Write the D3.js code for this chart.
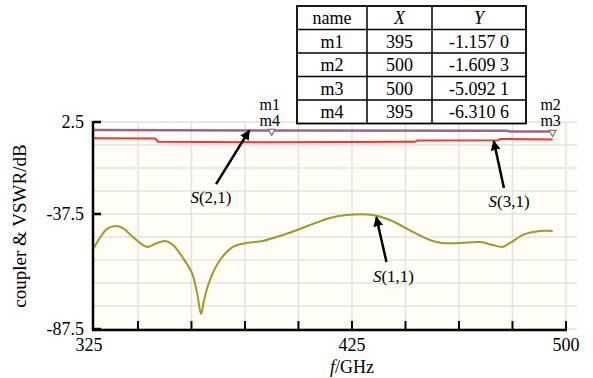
<!DOCTYPE html>
<html>
<head>
<meta charset="utf-8">
<script src="https://cdn.jsdelivr.net/npm/d3@7"></script>
<style>
  body { margin: 0; background: #fff; }
  svg { display: block; }
  text { font-family: "Liberation Serif", "Times New Roman", serif; fill: #000; }
</style>
</head>
<body>
<svg id="chart" width="593" height="378"></svg>
<script>
// S(1,1): [frequency GHz, dB]
const s11 = [
  [328.5, -52.3], [330.8, -47.9], [333.4, -44.0], [336.4, -42.7], [339.4, -43.6],
  [343.1, -47.5], [348.4, -51.8], [351.4, -50.5], [355.1, -49.2], [358.1, -51.0],
  [361.8, -56.6], [365.2, -63.2], [367.1, -71.8], [368.6, -81.0], [369.7, -74.9],
  [371.9, -66.2], [375.7, -57.5], [380.5, -51.8], [385.7, -50.1], [391.7, -49.2],
  [399.2, -46.6], [405.6, -44.0], [409.3, -42.3], [416.8, -39.2], [423.1, -37.9],
  [432.5, -37.9], [439.2, -40.1], [447.8, -45.3], [454.2, -48.8], [458.6, -50.1],
  [465.4, -50.1], [472.9, -49.7], [477.7, -51.0], [481.1, -51.8], [484.1, -50.1],
  [488.9, -46.6], [495.3, -44.9], [500.0, -44.9]
];
// S(2,1)
const s21 = [[328.5, -1.0], [395, -1.157], [483.0, -1.25], [484.0, -1.6], [500, -1.609]];
// S(3,1)
const s31 = [
  [328.5, -4.6], [351.5, -4.7], [352.5, -6.1], [395, -6.31], [448.5, -6.1],
  [449.5, -5.5], [479.5, -5.4], [480.5, -4.9], [500, -5.09]
];

const markerNames = ["m1", "m2", "m3", "m4"];
const markerX = [395, 500, 500, 395];
const markerY = ["-1.157 0", "-1.609 3", "-5.092 1", "-6.310 6"];

const yTicks = [2.5, -37.5, -87.5];
const xTicks = [345, 365, 385, 405, 425, 445, 465, 485, 505];
// sweep end labels sit on the axis ends, like the original plot
const xLabels = [[328.2, "325"], [425, "425"], [505, "500"]];

const svg = d3.select("#chart");

const x = d3.scaleLinear().domain([328.2, 505]).range([93, 566]);
const y = d3.scaleLinear().domain([-87.5, 2.5]).range([329, 122]);
const plotRight = 577;

// background + grid
svg.append("rect")
  .attr("x", 93).attr("y", 122)
  .attr("width", plotRight - 93).attr("height", 207)
  .attr("fill", "#fefef7");

svg.append("g")
  .selectAll("line")
  .data(d3.range(-87.5, 2.6, 10))
  .join("line")
  .attr("x1", 93).attr("x2", plotRight)
  .attr("y1", d => y(d)).attr("y2", d => y(d))
  .attr("stroke", "#e2e2e2").attr("stroke-width", 1.5);

svg.append("g")
  .selectAll("line")
  .data(xTicks)
  .join("line")
  .attr("x1", d => x(d)).attr("x2", d => x(d))
  .attr("y1", 122).attr("y2", 329)
  .attr("stroke", "#e2e2e2").attr("stroke-width", 1.5);

// curves
const line = d3.line().x(d => x(d[0])).y(d => y(d[1]));

svg.append("path").datum(s11)
  .attr("d", line.curve(d3.curveCatmullRom))
  .attr("fill", "none").attr("stroke", "#9c9c25").attr("stroke-width", 2);

svg.append("path").datum(s21)
  .attr("d", line.curve(d3.curveLinear))
  .attr("fill", "none").attr("stroke", "#94688c").attr("stroke-width", 2.5);

svg.append("path").datum(s31)
  .attr("d", line.curve(d3.curveLinear))
  .attr("fill", "none").attr("stroke", "#ff3030").attr("stroke-width", 2);

// marker triangles (one per x position, on S(2,1))
const markPts = [[395, -1.157], [500, -1.609]];
svg.append("g")
  .selectAll("path")
  .data(markPts)
  .join("path")
  .attr("d", d => {
    let cx = x(d[0]), top = y(d[1]) - 1;
    return "M" + (cx - 3.5) + "," + top + "L" + (cx + 3.5) + "," + top + "L" + cx + "," + (top + 6) + "Z";
  })
  .attr("fill", "#fff").attr("stroke", "#777").attr("stroke-width", 1.2);

// marker labels
const markLabels = [
  [395, ["m1", "m4"]],
  [500, ["m2", "m3"]]
];
markLabels.forEach(([f, names]) => {
  names.forEach((n, i) => {
    svg.append("text")
      .attr("x", x(f) - 2).attr("y", 110 + i * 15.5)
      .attr("text-anchor", "middle")
      .attr("font-size", 16)
      .text(n);
  });
});

// axes
svg.append("line")
  .attr("x1", 93).attr("x2", 93).attr("y1", 121).attr("y2", 330)
  .attr("stroke", "#000").attr("stroke-width", 2.5);
svg.append("line")
  .attr("x1", 92).attr("x2", x(505) + 1).attr("y1", 330).attr("y2", 330)
  .attr("stroke", "#000").attr("stroke-width", 2.5);

svg.append("g")
  .selectAll("line")
  .data(yTicks)
  .join("line")
  .attr("x1", 93).attr("x2", 101)
  .attr("y1", d => y(d)).attr("y2", d => y(d))
  .attr("stroke", "#000").attr("stroke-width", 2.5);

svg.append("g")
  .selectAll("line")
  .data(xTicks)
  .join("line")
  .attr("x1", d => x(d)).attr("x2", d => x(d))
  .attr("y1", 330).attr("y2", 321)
  .attr("stroke", "#000").attr("stroke-width", 2);

svg.append("g")
  .selectAll("text")
  .data(yTicks)
  .join("text")
  .attr("x", 84).attr("y", d => y(d))
  .attr("dy", "0.35em")
  .attr("text-anchor", "end")
  .attr("font-size", 18)
  .text(d => d);

svg.append("g")
  .selectAll("text")
  .data(xLabels)
  .join("text")
  .attr("x", d => x(d[0]) - (d[1] == "325" ? 4 : 0))
  .attr("y", 351)
  .attr("text-anchor", "middle")
  .attr("font-size", 18)
  .text(d => d[1]);

// axis titles
let xt = svg.append("text")
  .attr("x", 352).attr("y", 373)
  .attr("text-anchor", "middle")
  .attr("font-size", 18);
xt.append("tspan").attr("font-style", "italic").text("f");
xt.append("tspan").text("/GHz");

svg.append("text")
  .attr("transform", "translate(26,226) rotate(-90)")
  .attr("text-anchor", "middle")
  .attr("font-size", 19)
  .text("coupler & VSWR/dB");

// annotation arrows
svg.append("defs").append("marker")
  .attr("id", "ah")
  .attr("viewBox", "0 0 10 10")
  .attr("refX", 9).attr("refY", 5)
  .attr("markerWidth", 4).attr("markerHeight", 4)
  .attr("orient", "auto")
  .append("path").attr("d", "M0,0L10,5L0,10Z").attr("fill", "#000");

const notes = [
  {name: "2,1", from: [374.2, -24.5], to: [386.6, -1.2], label: [372.3, -32.8]},
  {name: "3,1", from: [481.8, -26.2], to: [478.0, -5.8], label: [483.7, -34.5]},
  {name: "1,1", from: [437.9, -58.4], to: [434.1, -38.9], label: [440.5, -67.1]}
];

notes.forEach(n => {
  svg.append("line")
    .attr("x1", x(n.from[0])).attr("y1", y(n.from[1]))
    .attr("x2", x(n.to[0])).attr("y2", y(n.to[1]))
    .attr("stroke", "#000").attr("stroke-width", 2.5)
    .attr("marker-end", "url(#ah)");
  let t = svg.append("text")
    .attr("x", x(n.label[0])).attr("y", y(n.label[1]))
    .attr("text-anchor", "middle")
    .attr("font-size", 17);
  t.append("tspan").attr("font-style", "italic").text("S");
  t.append("tspan").text("(" + n.name + ")");
});

// marker table
const colX = [297, 367, 432, 526];
const rowH = 23.5, top0 = 6;
const rows = [["name", "X", "Y"]].concat(markerNames.map((m, i) => [m, String(markerX[i]), markerY[i]]));

let tbl = svg.append("g");
tbl.append("rect")
  .attr("x", colX[0]).attr("y", top0)
  .attr("width", colX[3] - colX[0]).attr("height", rowH * rows.length)
  .attr("fill", "#fff").attr("stroke", "#000").attr("stroke-width", 1.8);

d3.range(1, rows.length).forEach(i => {
  tbl.append("line")
    .attr("x1", colX[0]).attr("x2", colX[3])
    .attr("y1", top0 + i * rowH).attr("y2", top0 + i * rowH)
    .attr("stroke", "#000").attr("stroke-width", 1.5);
});
[1, 2].forEach(c => {
  tbl.append("line")
    .attr("x1", colX[c]).attr("x2", colX[c])
    .attr("y1", top0).attr("y2", top0 + rowH * rows.length)
    .attr("stroke", "#000").attr("stroke-width", 1.5);
});

rows.forEach((r, i) => {
  r.forEach((v, c) => {
    tbl.append("text")
      .attr("x", (colX[c] + colX[c + 1]) / 2)
      .attr("y", top0 + i * rowH + rowH / 2)
      .attr("dy", "0.35em")
      .attr("text-anchor", "middle")
      .attr("font-size", 18)
      .attr("font-style", i == 0 && c > 0 ? "italic" : null)
      .text(v);
  });
});
</script>
</body>
</html>
